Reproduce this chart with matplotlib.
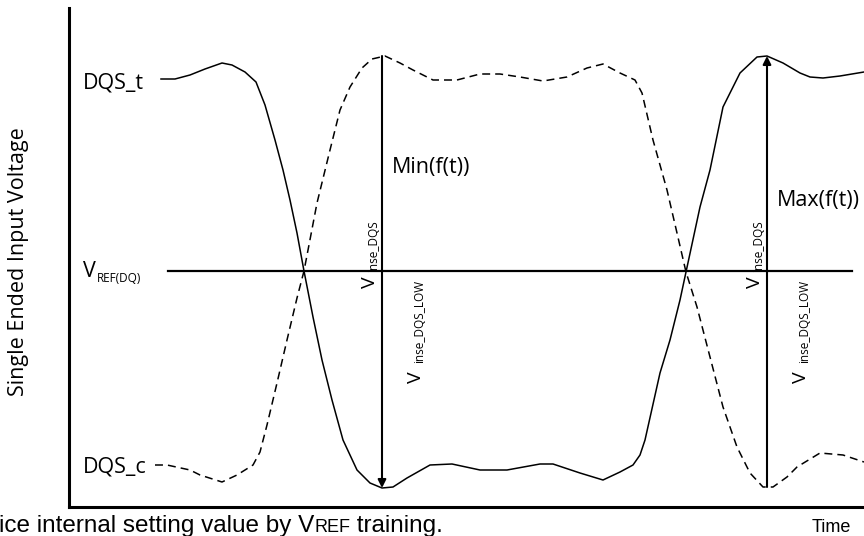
import matplotlib
matplotlib.use('Agg')
import numpy as np
import matplotlib.pyplot as plt

plt.rcParams['font.family'] = 'Open Sans'

# time / voltage samples of the two strobe signals (arbitrary units)
dqs_t_time = [92, 106, 121, 136, 153, 163, 176, 187, 196, 206, 214, 221, 228, 235, 244,
              253, 263, 274, 288, 301, 313, 324, 338, 361, 383, 411, 438, 471, 484, 511,
              534, 551, 564, 571, 576, 591, 601, 611, 617, 631, 641, 654, 671, 688, 698,
              714, 731, 741, 754, 771, 795]
dqs_t_volt = [428, 428, 432, 438, 444, 442, 435, 425, 402, 367, 337, 307, 274, 236, 190,
              147, 107, 67, 37, 24, 19, 20, 29, 42, 43, 37, 37, 43, 43, 34,
              27, 35, 42, 52, 67, 134, 167, 207, 235, 300, 337, 400, 434, 450, 451,
              444, 434, 430, 429, 431, 435]

dqs_c_time = [86, 98, 121, 131, 153, 168, 184, 191, 198, 208, 218, 228, 235, 248, 261,
              271, 281, 293, 303, 316, 331, 344, 364, 388, 411, 431, 451, 474, 498, 518,
              534, 551, 566, 573, 584, 598, 608, 617, 628, 641, 654, 668, 681, 694, 704,
              718, 728, 751, 774, 795]
dqs_c_volt = [42, 42, 37, 32, 25, 32, 42, 55, 82, 124, 167, 209, 236, 304, 357,
              397, 420, 439, 448, 451, 444, 437, 427, 427, 433, 433, 430, 426, 430, 439,
              443, 434, 427, 414, 367, 317, 274, 235, 200, 150, 100, 60, 34, 20, 20,
              30, 40, 54, 52, 45]

vref = 236
vref_span = [99, 783]

dqs_t_time = np.array(dqs_t_time)
dqs_t_volt = np.array(dqs_t_volt)
dqs_c_time = np.array(dqs_c_time)
dqs_c_volt = np.array(dqs_c_volt)

fig = plt.figure(figsize=(8.64, 5.36), dpi=100)
ax = fig.add_axes([69/864, 29/536, 795/864, 499/536])
ax.set_xlim(0, 795)
ax.set_ylim(0, 499)
ax.set_xticks([])
ax.set_yticks([])
ax.spines['top'].set_visible(False)
ax.spines['right'].set_visible(False)
ax.spines['left'].set_linewidth(2.2)
ax.spines['bottom'].set_linewidth(2.2)

ax.plot(dqs_t_time, dqs_t_volt, color='black', lw=1.1, clip_on=False)
ax.plot(dqs_c_time, dqs_c_volt, color='black', lw=1.1, dashes=(5.2, 3.3), clip_on=False)
ax.plot(vref_span, [vref, vref], color='black', lw=1.6)

# Min(f(t)): low level of DQS_t in the middle window
mid = (dqs_t_time > 250) & (dqs_t_time < 550)
i_min = np.argmin(np.where(mid, dqs_t_volt, 1e9))
x_min = dqs_t_time[i_min]
ax.annotate('', xy=(x_min, dqs_t_volt[i_min]), xytext=(x_min, dqs_c_volt.max()),
            arrowprops=dict(arrowstyle='-|>', lw=1.5, color='black',
                            mutation_scale=12, shrinkA=0, shrinkB=0))

# Max(f(t)): high level of DQS_t on the right
right = dqs_t_time > 600
i_max = np.argmax(np.where(right, dqs_t_volt, -1e9))
x_max = dqs_t_time[i_max]
ax.annotate('', xy=(x_max, dqs_t_volt[i_max]), xytext=(x_max, dqs_c_volt[dqs_c_time > 600].min()),
            arrowprops=dict(arrowstyle='-|>', lw=1.5, color='black',
                            mutation_scale=12, shrinkA=0, shrinkB=0))

fs = 15.5
ax.text(14, 419, 'DQS_t', fontsize=fs, va='baseline')
ax.text(14, 35, 'DQS_c', fontsize=fs, va='baseline')
ax.text(14, 230, 'V', fontsize=fs, va='baseline')
ax.text(28, 225, 'REF(DQ)', fontsize=8.5, va='baseline')
ax.text(x_min + 10, 334, 'Min(f(t))', fontsize=fs, va='baseline')
ax.text(x_max + 10, 301, 'Max(f(t))', fontsize=fs, va='baseline')


def vlabel(x, y, sub, dy):
    ax.text(x, y, 'V', fontsize=14, rotation=90, rotation_mode='anchor',
            ha='left', va='baseline')
    ax.text(x + 2, y + dy, sub, fontsize=8.5, rotation=90, rotation_mode='anchor',
            ha='left', va='baseline')


for xa in (x_min, x_max):
    vlabel(xa - 7, 219, 'inse_DQS', 16)
    vlabel(xa + 39, 124, 'inse_DQS_LOW', 20)

fig.text(19/864, 1 - 262/536, 'Single Ended Input Voltage', fontsize=15.5,
         rotation=90, ha='center', va='center')
fig.text(812/864, 1 - 532/536, 'Time', fontsize=13, family='Liberation Sans',
         va='baseline')

t1 = fig.text(-1/864, 1 - 532/536, 'ice internal setting value by V', fontsize=17.5,
              family='Liberation Sans', va='baseline')
t2 = fig.text(0, 0, 'REF', fontsize=13, family='Liberation Sans', va='baseline')
t3 = fig.text(0, 0, ' training.', fontsize=17.5, family='Liberation Sans', va='baseline')
fig.canvas.draw()
r = fig.canvas.get_renderer()
inv = fig.transFigure.inverted()
x1 = inv.transform((t1.get_window_extent(r).x1, 0))[0]
t2.set_position((x1, 1 - 532/536))
x2 = inv.transform((t2.get_window_extent(r).x1, 0))[0]
t3.set_position((x2, 1 - 532/536))

fig.savefig('out.png', dpi=100)
